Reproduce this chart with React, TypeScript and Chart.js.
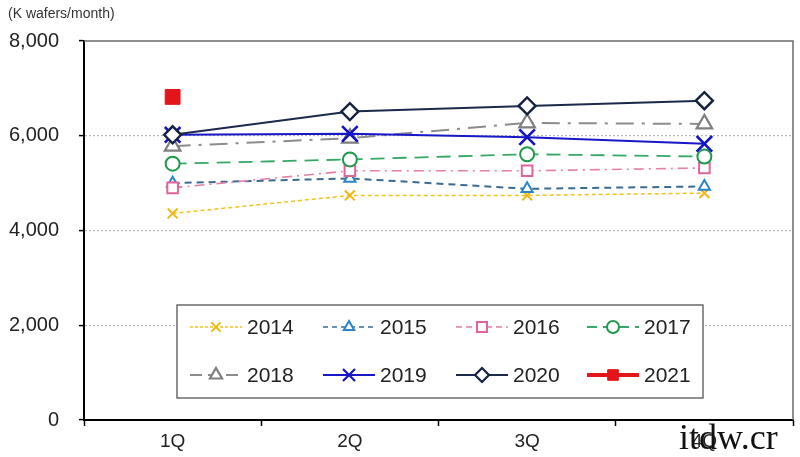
import React, { useEffect, useRef } from "react";
import { Chart, registerables } from "chart.js";

Chart.register(...registerables);

const categories = ["1Q", "2Q", "3Q", "4Q"];
const yTicks = [0, 2000, 4000, 6000, 8000];
const unitLabel = "(K wafers/month)";
const watermark = "itdw.cr";

const years = ["2014", "2015", "2016", "2017", "2018", "2019", "2020", "2021"];
const s2014 = [4360, 4740, 4740, 4790];
const s2015 = [5000, 5100, 4880, 4930];
const s2016 = [4900, 5260, 5260, 5320];
const s2017 = [5410, 5500, 5610, 5560];
const s2018 = [5780, 5950, 6270, 6250];
const s2019 = [6020, 6040, 5970, 5830];
const s2020 = [6020, 6510, 6630, 6740];
const s2021 = [6820, null, null, null];
const seriesValues = [s2014, s2015, s2016, s2017, s2018, s2019, s2020, s2021];

type Style = {
  line: string;
  marker: string;
  fill: string;
  dash: number[];
  legDash: number[];
  lw: number;
  shape: string;
  r: number;
  mlw: number;
  legR: number;
  legLw: number;
};

const styles: Style[] = [
  { line: "#f2c21b", marker: "#efb70f", fill: "#f2c21b", dash: [4, 3], legDash: [3, 2], lw: 1.5, shape: "crossRot", r: 7, mlw: 2, legR: 6.5, legLw: 1.3 },
  { line: "#3c6b90", marker: "#2a86c8", fill: "#ffffff", dash: [7, 5], legDash: [5, 4], lw: 2, shape: "triangle", r: 6.5, mlw: 2, legR: 6, legLw: 1.6 },
  { line: "#e47fa8", marker: "#e0639b", fill: "#ffffff", dash: [10, 5, 2, 5], legDash: [6, 4], lw: 1.6, shape: "rect", r: 7.5, mlw: 2, legR: 7, legLw: 1.6 },
  { line: "#35a865", marker: "#1e9a4c", fill: "#ffffff", dash: [14, 8], legDash: [10, 6], lw: 1.8, shape: "circle", r: 7, mlw: 2, legR: 6, legLw: 1.8 },
  { line: "#8c8c8c", marker: "#7f7f7f", fill: "#ffffff", dash: [18, 8, 3, 8], legDash: [12, 6], lw: 2, shape: "triangle", r: 9, mlw: 2.2, legR: 7, legLw: 2 },
  { line: "#1818c8", marker: "#1414c4", fill: "#1414c4", dash: [], legDash: [], lw: 2, shape: "crossRot", r: 11, mlw: 2.6, legR: 8.5, legLw: 2 },
  { line: "#1b2a4c", marker: "#15223f", fill: "#ffffff", dash: [], legDash: [], lw: 2, shape: "rectRot", r: 8.5, mlw: 2.4, legR: 7, legLw: 2 },
  { line: "#e3151b", marker: "#e3151b", fill: "#e3151b", dash: [], legDash: [], lw: 2, shape: "rect", r: 10.5, mlw: 1, legR: 7.5, legLw: 4 },
];

const FONT = "'Liberation Sans', Arial, Helvetica, sans-serif";

function drawMarker(
  ctx: CanvasRenderingContext2D,
  shape: string,
  x: number,
  y: number,
  r: number,
  stroke: string,
  fill: string,
  lw: number
) {
  ctx.save();
  ctx.setLineDash([]);
  ctx.lineWidth = lw;
  ctx.strokeStyle = stroke;
  ctx.fillStyle = fill;
  ctx.beginPath();
  if (shape === "crossRot") {
    const d = r * Math.SQRT1_2;
    ctx.moveTo(x - d, y - d);
    ctx.lineTo(x + d, y + d);
    ctx.moveTo(x + d, y - d);
    ctx.lineTo(x - d, y + d);
    ctx.stroke();
  } else if (shape === "triangle") {
    let a = 0;
    ctx.moveTo(x + Math.sin(a) * r, y - Math.cos(a) * r);
    a += (2 * Math.PI) / 3;
    ctx.lineTo(x + Math.sin(a) * r, y - Math.cos(a) * r);
    a += (2 * Math.PI) / 3;
    ctx.lineTo(x + Math.sin(a) * r, y - Math.cos(a) * r);
    ctx.closePath();
    ctx.fill();
    ctx.stroke();
  } else if (shape === "rect") {
    const s = r * Math.SQRT1_2;
    ctx.rect(x - s, y - s, 2 * s, 2 * s);
    ctx.fill();
    ctx.stroke();
  } else if (shape === "rectRot") {
    ctx.moveTo(x, y - r);
    ctx.lineTo(x + r, y);
    ctx.lineTo(x, y + r);
    ctx.lineTo(x - r, y);
    ctx.closePath();
    ctx.fill();
    ctx.stroke();
  } else {
    ctx.arc(x, y, r, 0, Math.PI * 2);
    ctx.fill();
    ctx.stroke();
  }
  ctx.restore();
}

const LEGEND_BOX = { left: 177, top: 305, right: 703, bottom: 398 };
const LEGEND_COLS = [190, 323, 456, 587];
const LEGEND_ROWS = [327, 375];

const decorPlugin = {
  id: "decor",
  afterDraw(chart: any) {
    const { ctx, chartArea: a } = chart;
    ctx.save();
    ctx.setLineDash([]);
    ctx.strokeStyle = "#6a6a6a";
    ctx.lineWidth = 1.5;
    ctx.beginPath();
    ctx.moveTo(a.left, a.top);
    ctx.lineTo(a.right, a.top);
    ctx.lineTo(a.right, a.bottom);
    ctx.stroke();

    ctx.fillStyle = "#333";
    ctx.font = `14px ${FONT}`;
    ctx.textBaseline = "middle";
    ctx.textAlign = "left";
    ctx.fillText(unitLabel, 8, 14);

    const b = LEGEND_BOX;
    ctx.fillStyle = "#ffffff";
    ctx.fillRect(b.left, b.top, b.right - b.left, b.bottom - b.top);
    ctx.strokeStyle = "#555";
    ctx.lineWidth = 1.3;
    ctx.strokeRect(b.left, b.top, b.right - b.left, b.bottom - b.top);

    chart.data.datasets.forEach((ds: any, i: number) => {
      const st = styles[i];
      const x0 = LEGEND_COLS[i % 4];
      const y = LEGEND_ROWS[Math.floor(i / 4)];
      const w = 52;
      ctx.save();
      ctx.strokeStyle = st.line;
      ctx.lineWidth = st.legLw;
      ctx.setLineDash(st.legDash);
      ctx.beginPath();
      ctx.moveTo(x0, y);
      ctx.lineTo(x0 + w, y);
      ctx.stroke();
      ctx.restore();
      drawMarker(ctx, st.shape, x0 + w / 2, y, st.legR, st.marker, st.fill, Math.min(st.mlw, 2.2));
      ctx.fillStyle = "#222";
      ctx.font = `21px ${FONT}`;
      ctx.textBaseline = "middle";
      ctx.textAlign = "left";
      ctx.fillText(ds.label, x0 + w + 5, y + 1);
    });

    ctx.fillStyle = "#111";
    ctx.font = "36px 'Liberation Serif', 'DejaVu Serif', serif";
    ctx.textBaseline = "alphabetic";
    ctx.textAlign = "left";
    ctx.fillText(watermark, 679, 449);
    ctx.restore();
  },
};

export default function App() {
  const canvasRef = useRef<HTMLCanvasElement | null>(null);

  useEffect(() => {
    const canvas = canvasRef.current;
    if (!canvas) return;
    const datasets = years.map((y, i) => {
      const st = styles[i];
      return {
        label: y,
        data: seriesValues[i],
        borderColor: st.line,
        borderWidth: st.lw,
        borderDash: st.dash,
        backgroundColor: st.fill,
        pointStyle: st.shape,
        pointRadius: st.r,
        pointBorderColor: st.marker,
        pointBackgroundColor: st.fill,
        pointBorderWidth: st.mlw,
        tension: 0,
        fill: false,
        order: years.length - i,
      };
    });

    const chart = new Chart(canvas, {
      type: "line",
      data: { labels: categories, datasets },
      plugins: [decorPlugin],
      options: {
        responsive: false,
        animation: false,
        devicePixelRatio: 1,
        layout: { autoPadding: false, padding: { top: 41, right: 7, left: 0, bottom: 0 } },
        plugins: { legend: { display: false }, tooltip: { enabled: false }, title: { display: false } },
        scales: {
          x: {
            type: "category",
            offset: true,
            grid: {
              display: true,
              offset: true,
              drawOnChartArea: false,
              drawTicks: true,
              tickLength: 6,
              tickColor: "#000",
              tickWidth: 1.5,
            },
            border: { display: true, color: "#000", width: 2 },
            ticks: { color: "#222", font: { family: FONT, size: 19 }, padding: 4, maxRotation: 0 },
            afterFit: (s: any) => {
              s.height = 37;
              s.paddingLeft = 0;
              s.paddingRight = 0;
            },
          },
          y: {
            min: 0,
            max: 8000,
            afterBuildTicks: (s: any) => {
              s.ticks = yTicks.map((v) => ({ value: v }));
            },
            ticks: {
              color: "#222",
              font: { family: FONT, size: 20 },
              padding: 20,
              callback: (v: any) => Number(v).toLocaleString("en-US"),
            },
            grid: {
              color: (c: any) =>
                c.tick && (c.tick.value === 0 || c.tick.value === 8000) ? "rgba(0,0,0,0)" : "#b4b4b4",
              lineWidth: 1.2,
              tickLength: 5,
              tickColor: "#000",
              tickWidth: 1.5,
              tickBorderDash: [],
            },
            border: { display: true, color: "#000", width: 2, dash: [2, 2] },
            afterFit: (s: any) => {
              s.width = 84;
            },
          },
        },
      } as any,
    });
    return () => chart.destroy();
  }, []);

  return (
    <div style={{ position: "absolute", left: 0, top: 0, width: 800, height: 457, background: "#fff" }}>
      <canvas ref={canvasRef} width={800} height={457} style={{ display: "block", width: 800, height: 457 }} />
    </div>
  );
}
